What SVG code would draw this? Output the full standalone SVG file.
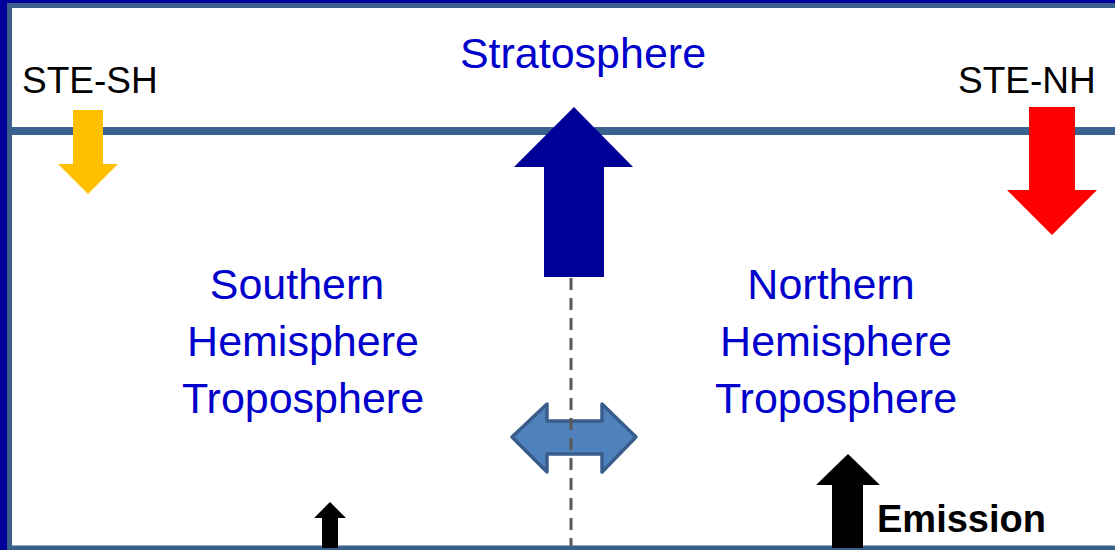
<svg xmlns="http://www.w3.org/2000/svg" width="1115" height="550" viewBox="0 0 1115 550">
<style>
.lbl{font-family:"Liberation Sans",Arial,sans-serif;font-size:37px;fill:#000}
.blue{font-family:"Liberation Sans",Arial,sans-serif;font-size:43px;fill:#0000CC;text-anchor:middle}
.emis{font-family:"Liberation Sans",Arial,sans-serif;font-size:38px;font-weight:bold;fill:#000}
</style>
<rect x="0" y="0" width="1115" height="550" fill="#000099"/>
<rect x="9.5" y="5.5" width="1120" height="542.5" fill="#fff" stroke="#3A5F8A" stroke-width="5"/>
<line x1="12" y1="131" x2="1115" y2="131" stroke="#3B6190" stroke-width="8"/>
<g id="connectors">
  <polygon id="arrow-ste-sh" points="73,110 103,110 103,164 118,164 88,194 58,164 73,164" fill="#FFC000"/>
  <polygon id="arrow-ste-nh" points="1029,107 1075,107 1075,190 1097,190 1052,235 1007,190 1029,190" fill="#FF0000"/>
  <polygon id="arrow-strat" points="574,107 633,167 604,167 604,277 544,277 544,167 514,167" fill="#000099"/>
  <polygon id="arrow-exchange" points="512,437 547,404 547,421 602,421 602,404 636,437 602,472 602,454 547,454 547,472" fill="#4F81BD" stroke="#385D8A" stroke-width="3.5" stroke-linejoin="round"/>
  <line x1="571" y1="278" x2="571" y2="546" stroke="#595959" stroke-width="3" stroke-dasharray="12 8"/>
  <polygon id="arrow-sh-emis" points="330,502 346,518 338,518 338,548 322,548 322,518 314,518" fill="#000"/>
  <polygon id="arrow-nh-emis" points="848,454 880,485 863,485 863,548 832,548 832,485 816,485" fill="#000"/>
</g>
<g id="ste-sh"><text class="lbl" x="22" y="93">STE-SH</text></g>
<g id="ste-nh"><text class="lbl" x="958" y="93">STE-NH</text></g>
<g id="stratosphere"><text class="blue" x="583" y="68">Stratosphere</text></g>
<g id="sh-trop">
  <text class="blue" x="297" y="299">Southern</text>
  <text class="blue" x="303" y="356">Hemisphere</text>
  <text class="blue" x="303" y="413">Troposphere</text>
</g>
<g id="nh-trop">
  <text class="blue" x="831" y="299">Northern</text>
  <text class="blue" x="836" y="356">Hemisphere</text>
  <text class="blue" x="836" y="413">Troposphere</text>
</g>
<g id="emission"><text class="emis" x="877" y="532">Emission</text></g>
</svg>
